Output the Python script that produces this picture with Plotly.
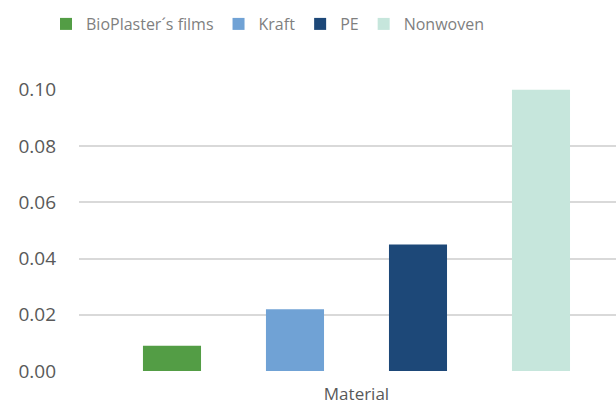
import plotly.graph_objects as go

category = ["Material"]
series_names = ["BioPlaster´s films", "Kraft", "PE", "Nonwoven"]
series_values = [0.009, 0.022, 0.045, 0.100]
colors = ["#539d45", "#70a2d5", "#1d4878", "#c6e6dc"]
y_ticks = [0.00, 0.02, 0.04, 0.06, 0.08, 0.10]
y_ticklabels = ["0.00", "0.02", "0.04", "0.06", "0.08", "0.10"]

fig = go.Figure()
for name, val, col in zip(series_names, series_values, colors):
    fig.add_trace(go.Bar(x=category, y=[val], name=name, marker=dict(color=col, line=dict(width=0))))

FONT = "Open Sans"
fig.update_layout(
    width=616, height=407,
    margin=dict(l=79, r=0, t=89, b=36, autoexpand=False),
    paper_bgcolor="white", plot_bgcolor="white",
    barmode="group", bargap=0.1, bargroupgap=0.528,
    showlegend=True,
    legend=dict(orientation="h", x=46 / 616, xref="container", xanchor="left",
                y=1 - 24 / 407, yref="container", yanchor="middle",
                font=dict(family=FONT, size=16, color="#7f7f7f"), itemwidth=30,
                traceorder="normal"),
    xaxis=dict(range=[-0.5076, 0.4747], showgrid=False, zeroline=False, showline=False,
               ticks="", tickfont=dict(family=FONT, size=17, color="#595959"),
               ticklabelstandoff=11, automargin=False),
    yaxis=dict(range=[0, 0.1003], tickvals=y_ticks, ticktext=y_ticklabels,
               showgrid=True, gridcolor="#d9d9d9", gridwidth=2,
               zeroline=False, showline=False, ticks="",
               tickfont=dict(family=FONT, size=19, color="#595959"),
               ticklabelstandoff=22, automargin=False),
)
fig.write_html("out.html", config={"displayModeBar": False},
               post_script="document.body.style.margin='0px';document.body.style.overflow='hidden';")
